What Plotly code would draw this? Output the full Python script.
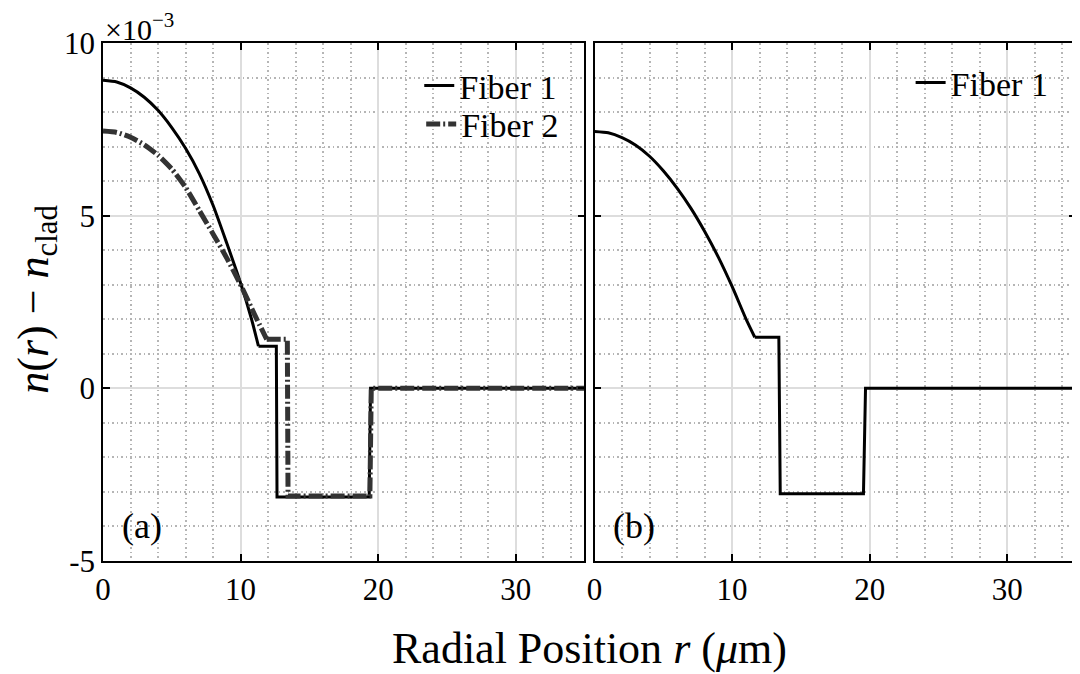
import plotly.graph_objects as go
from plotly.subplots import make_subplots

# refractive index difference n(r) - n_clad, in units of 1e-3
# panel (a)
r_fiber1_a = [0, 1, 2, 3, 4, 5, 6, 7, 8, 9, 10, 10.8, 11.3, 12.6, 12.65, 19.35, 19.45, 35]
dn_fiber1_a = [8.92, 8.87, 8.70, 8.43, 8.05, 7.55, 6.95, 6.22, 5.3, 4.2, 3.05, 2.0, 1.22, 1.22,
               -3.15, -3.15, 0, 0]

r_fiber2_a = [0, 1, 2, 3, 4, 5, 6, 7, 8, 9, 10, 11, 11.9, 13.4, 13.45, 19.4, 19.5, 35]
dn_fiber2_a = [7.45, 7.41, 7.27, 7.05, 6.75, 6.35, 5.82, 5.15, 4.47, 3.77, 3.0, 2.15, 1.42, 1.42,
               -3.12, -3.12, 0, 0]

# panel (b)
r_fiber1_b = [0, 1, 2, 3, 4, 5, 6, 7, 8, 9, 10, 11, 11.65, 13.4, 13.5, 19.55, 19.7, 35]
dn_fiber1_b = [7.44, 7.40, 7.26, 7.04, 6.72, 6.3, 5.8, 5.22, 4.55, 3.8, 2.95, 2.02, 1.48, 1.48,
               -3.05, -3.05, 0, 0]

x_ticks = [0, 10, 20, 30]
y_ticks = [-5, 0, 5, 10]
y_ticktext = ["-5", "0", "5", "10"]

FONT = "Liberation Serif, DejaVu Serif, Times New Roman, serif"
N_CURVE = 13  # points of the graded core, drawn smooth; the rest are steps


def add_profile(r, dn, name, line, col, legend):
    # smooth graded-index core
    fig.add_trace(go.Scatter(x=r[:N_CURVE], y=dn[:N_CURVE], mode="lines", name=name,
                             line=dict(shape="spline", smoothing=0.6, **line),
                             legendgroup=name + legend, legend=legend), row=1, col=col)
    # trench and cladding steps
    fig.add_trace(go.Scatter(x=r[N_CURVE - 1:], y=dn[N_CURVE - 1:], mode="lines", name=name,
                             line=dict(shape="linear", **line), showlegend=False,
                             legendgroup=name + legend, legend=legend), row=1, col=col)


fig = make_subplots(rows=1, cols=2, horizontal_spacing=0.0103)

add_profile(r_fiber1_a, dn_fiber1_a, "Fiber 1", dict(color="black", width=3), 1, "legend")
add_profile(r_fiber2_a, dn_fiber2_a, "Fiber 2",
            dict(color="#333333", width=5, dash="14px,3px,2px,3px"), 1, "legend3")
add_profile(r_fiber1_b, dn_fiber1_b, "Fiber 1", dict(color="black", width=3), 2, "legend2")

axis_common = dict(
    showline=True, linecolor="black", linewidth=1.5, mirror="ticks",
    ticks="inside", ticklen=7, tickwidth=1.5, tickcolor="black",
    showgrid=True, gridcolor="#dddddd", gridwidth=2, zeroline=False,
    tickfont=dict(family=FONT, size=31, color="black"),
)

for c in (1, 2):
    fig.update_xaxes(range=[0, 35], tickvals=x_ticks,
                     minor=dict(dtick=2, showgrid=True, griddash="1.5px,3px",
                                gridcolor="#b5b5b5", gridwidth=1.5),
                     row=1, col=c, **axis_common)
    fig.update_yaxes(range=[-5, 10], tickvals=y_ticks, ticktext=y_ticktext,
                     showticklabels=(c == 1),
                     minor=dict(dtick=1, showgrid=True, griddash="1.5px,3px",
                                gridcolor="#b5b5b5", gridwidth=1.5),
                     row=1, col=c, **axis_common)

legend_style = dict(bgcolor="rgba(0,0,0,0)", borderwidth=0,
                    font=dict(family=FONT, size=34, color="black"),
                    yanchor="middle", xanchor="right", tracegroupgap=0)

# page has an 8px body margin, so the margins are shifted to compensate
fig.update_layout(
    width=1080, height=674,
    margin=dict(l=95, r=10, t=35, b=121),
    paper_bgcolor="white", plot_bgcolor="white",
    legend=dict(x=0.472, y=0.917, **legend_style),
    legend3=dict(x=0.474, y=0.843, **legend_style),
    legend2=dict(x=0.977, y=0.923, **legend_style),
    annotations=[
        dict(text="×10<sup>−3</sup>", xref="paper", yref="paper", x=0.0, y=1.0,
             xanchor="left", yanchor="bottom", yshift=-5, showarrow=False,
             font=dict(family=FONT, size=30, color="black")),
        dict(text="(a)", xref="x domain", yref="y domain", x=0.035, y=0.025,
             xanchor="left", yanchor="bottom", showarrow=False,
             font=dict(family=FONT, size=36, color="black")),
        dict(text="(b)", xref="x2 domain", yref="y2 domain", x=0.035, y=0.025,
             xanchor="left", yanchor="bottom", showarrow=False,
             font=dict(family=FONT, size=36, color="black")),
        dict(text="Radial Position <i>r</i> (<i>μ</i>m)", xref="paper", yref="paper",
             x=0.4995, y=-0.168, xanchor="center", yanchor="middle", showarrow=False,
             font=dict(family=FONT, size=44, color="black")),
        dict(text="<i>n</i>(<i>r</i>) − <i>n</i><sub>clad</sub>", xref="paper", yref="paper",
             x=-0.068, y=0.506, xanchor="center", yanchor="middle", textangle=-90,
             showarrow=False, font=dict(family=FONT, size=44, color="black")),
    ],
)

fig.write_html("out.html")
